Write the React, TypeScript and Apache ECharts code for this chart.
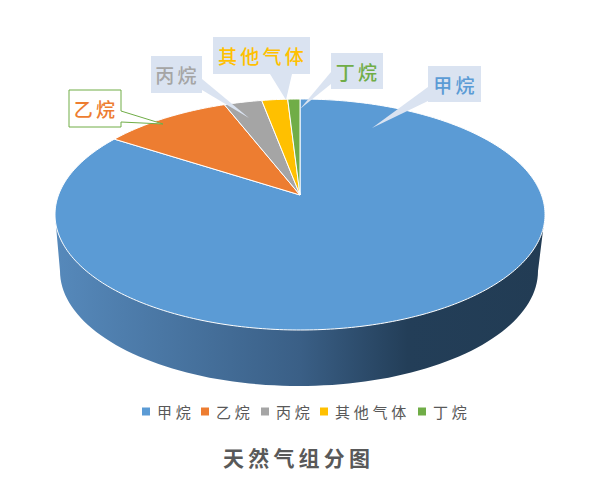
import React, { useEffect, useRef } from "react";
import * as echarts from "echarts";

const categories = ["甲烷", "乙烷", "丙烷", "其他气体", "丁烷"];
const shareValues = [86.4, 8.7, 2.5, 1.7, 0.8];
const sliceColors = ["#5b9bd5", "#ed7d31", "#a5a5a5", "#ffc000", "#70ad47"];
const chartTitle = "天然气组分图";

const legendLeft = [142, 201, 261, 320, 418];

const FONT = '"Noto Sans CJK SC", "Noto Sans", sans-serif';

// Perspective disc geometry
const TOP = { cx: 300, cy: 214.5, rx: 245, ry: 115.5 };
const BOTTOM = { cx: 299, cy: 271, rx: 239, ry: 115 };
const APEX: [number, number] = [300, 195];

// Callout boxes: [x, y, w, h], then the tail triangle
const callouts = [
  { name: "甲烷", box: [428, 66, 53, 36], tail: [[428, 87], [372, 128], [428, 101]], color: "#5b9bd5", bordered: false },
  { name: "乙烷", box: [69, 90, 52, 37], tail: [[121, 111], [163, 124], [121, 122]], color: "#ed7d31", bordered: true },
  { name: "丙烷", box: [151, 56, 51, 37], tail: [[202, 79], [249, 118], [202, 90]], color: "#a5a5a5", bordered: false },
  { name: "其他气体", box: [213, 37, 97, 37], tail: [[270, 74], [286, 100], [292, 74]], color: "#ffc000", bordered: false },
  { name: "丁烷", box: [331, 53, 52, 36], tail: [[331, 72], [300, 109], [331, 84]], color: "#70ad47", bordered: false },
];

const total = shareValues.reduce((a, b) => a + b, 0);

function rimPoint(deg: number): [number, number] {
  const r = (deg * Math.PI) / 180;
  return [TOP.cx + TOP.rx * Math.sin(r), TOP.cy - TOP.ry * Math.cos(r)];
}

function slicePoints(index: number): [number, number][] {
  const before = shareValues.slice(0, index).reduce((a, b) => a + b, 0);
  const start = (before / total) * 360;
  const end = ((before + shareValues[index]) / total) * 360;
  const steps = Math.max(4, Math.ceil(end - start));
  const pts: [number, number][] = [APEX];
  for (let i = 0; i <= steps; i++) pts.push(rimPoint(start + ((end - start) * i) / steps));
  return pts;
}

function wallPoints(): [number, number][] {
  const pts: [number, number][] = [[TOP.cx - TOP.rx, TOP.cy]];
  for (let a = 0; a <= 180; a += 2) {
    const r = (a * Math.PI) / 180;
    pts.push([BOTTOM.cx - BOTTOM.rx * Math.cos(r), BOTTOM.cy + BOTTOM.ry * Math.sin(r)]);
  }
  pts.push([TOP.cx + TOP.rx, TOP.cy]);
  return pts;
}

export default function App() {
  const ref = useRef<HTMLDivElement>(null);
  useEffect(() => {
    const chart = echarts.init(ref.current!, undefined, { renderer: "svg" });
    const wallFill = new echarts.graphic.LinearGradient(0, 0, 1, 0, [
      { offset: 0, color: "#5689bb" },
      { offset: 0.5, color: "#3a5f86" },
      { offset: 0.72, color: "#233e58" },
      { offset: 1, color: "#223c54" },
    ]);
    const series = categories.map((name, i) => ({
      type: "custom",
      name,
      coordinateSystem: "none",
      color: sliceColors[i],
      itemStyle: { color: sliceColors[i] },
      data: [shareValues[i]],
      renderItem: () => {
        const slice = {
          type: "polygon",
          shape: { points: slicePoints(i) },
          style: { fill: sliceColors[i], stroke: "#ffffff", lineWidth: 1 },
        };
        if (i !== 0) return slice;
        return {
          type: "group",
          children: [
            { type: "polygon", shape: { points: wallPoints() }, style: { fill: wallFill } },
            slice,
          ],
        };
      },
    }));
    const graphicEls: any[] = [];
    callouts.forEach((c) => {
      const [x, y, w, h] = c.box;
      const fill = c.bordered ? "#ffffff" : "#dae3f1";
      if (c.bordered) {
        graphicEls.push({
          type: "polygon",
          z: 100,
          shape: { points: [[x, y], [x + w, y], [x + w, c.tail[0][1]], c.tail[1], [x + w, c.tail[2][1]], [x + w, y + h], [x, y + h]] },
          style: { fill, stroke: "#70ad47", lineWidth: 1 },
        });
      } else {
        graphicEls.push({ type: "rect", z: 100, shape: { x, y, width: w, height: h }, style: { fill } });
        graphicEls.push({ type: "polygon", z: 100, shape: { points: c.tail }, style: { fill } });
      }
      graphicEls.push({
        type: "text",
        z: 101,
        x: x + w / 2 + 1,
        y: y + h / 2,
        style: {
          text: c.name,
          fill: c.color,
          font: `500 19px ${FONT}`,
          textAlign: "center",
          textVerticalAlign: "middle",
        },
      });
    });
    chart.setOption({
      animation: false,
      backgroundColor: "#ffffff",
      title: {
        text: chartTitle,
        left: 223,
        top: 446,
        padding: 0,
        textStyle: { color: "#595959", fontSize: 21, fontWeight: "bold", fontFamily: FONT },
      },
      legend: categories.map((name, i) => ({
        data: [name],
        left: legendLeft[i],
        top: 404,
        padding: 0,
        icon: "rect",
        itemWidth: 8,
        itemHeight: 8,
        itemGap: 0,
        textStyle: { color: "#595959", fontSize: 15, fontFamily: FONT, padding: [0, 0, 0, 2] },
      })),
      series,
      graphic: graphicEls,
    });
    return () => chart.dispose();
  }, []);
  return (
    <>
      <style>{`body{margin:0} #pie-chart text{letter-spacing:.17em} #pie-chart text[style*="15px"]{letter-spacing:.25em} #pie-chart text[style*="21px"]{letter-spacing:.2em}`}</style>
      <div id="pie-chart" ref={ref} style={{ width: 600, height: 477 }} />
    </>
  );
}
